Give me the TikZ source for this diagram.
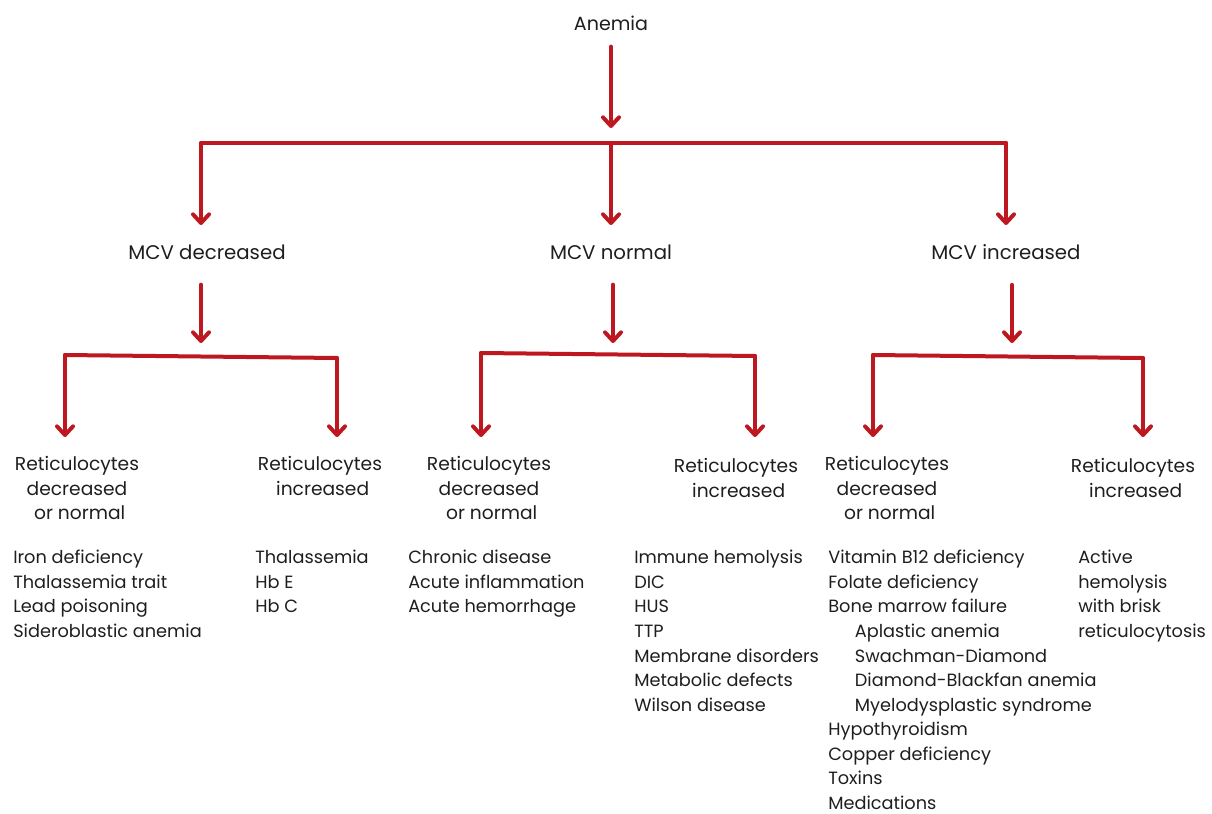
\documentclass[tikz,border=0pt]{standalone}
\usepackage{fontspec}
\setmainfont{Poppins}
\usetikzlibrary{arrows.meta}
\definecolor{barred}{RGB}{189,24,32}
\definecolor{inkgray}{RGB}{30,30,30}
\newcommand{\nudge}{\hspace*{4pt}}
\newcommand{\indentsub}{\hspace*{20pt}}
\tikzset{
  txt/.style={align=center, inner sep=0pt, text=inkgray,
    font=\fontsize{14}{18.5}\selectfont},
  head/.style={txt, font=\fontsize{14.8}{18.5}\selectfont},
  items/.style={txt, align=left, anchor=north west,
    font=\fontsize{13.3}{18.42}\selectfont},
  link/.style={draw=barred, line width=3pt, line cap=round},
  arr/.style={link, -{Straight Barb[length=6.5pt,width=12pt,round]}},
}
\begin{document}
\begin{tikzpicture}[x=0.75pt,y=-0.75pt]
  \useasboundingbox (0,0) rectangle (1212,813);

  \node[head, font=\fontsize{14.3}{18.5}\selectfont] (anemia) at (611,23) {Anemia};
  \node[head] (dec) at (207,252) {MCV decreased};
  \node[head] (nor) at (611,252) {MCV normal};
  \node[head] (inc) at (1006,252) {MCV increased};

  \node[txt] (declow) at (77,488) {Reticulocytes\\decreased\\\nudge or normal};
  \node[txt] (dechigh) at (320,476) {Reticulocytes\\\nudge increased};
  \node[txt] (norlow) at (489,488) {Reticulocytes\\decreased\\\nudge or normal};
  \node[txt] (norhigh) at (736,478) {Reticulocytes\\\nudge increased};
  \node[txt] (inclow) at (887,488) {Reticulocytes\\decreased\\\nudge or normal};
  \node[txt] (inchigh) at (1133,478) {Reticulocytes\\\nudge increased};

  \node[items] (l1) at (13,550) {Iron deficiency\\Thalassemia trait\\Lead poisoning\\Sideroblastic anemia};
  \node[items] (l2) at (255,550) {Thalassemia\\Hb E\\Hb C};
  \node[items] (l3) at (408,550) {Chronic disease\\Acute inflammation\\Acute hemorrhage};
  \node[items] (l4) at (634,550) {Immune hemolysis\\DIC\\HUS\\TTP\\Membrane disorders\\Metabolic defects\\Wilson disease};
  \node[items] (l5) at (828,550) {Vitamin B12 deficiency\\Folate deficiency\\Bone marrow failure\\
    \indentsub Aplastic anemia\\\indentsub Swachman-Diamond\\\indentsub Diamond-Blackfan anemia\\
    \indentsub Myelodysplastic syndrome\\Hypothyroidism\\Copper deficiency\\Toxins\\Medications};
  \node[items] (l6) at (1078,550) {Active\\hemolysis\\with brisk\\reticulocytosis};

  % top split
  \coordinate (t0) at (611,128);
  \coordinate (tl) at (201,143);
  \coordinate (tm) at (611,143);
  \coordinate (tr) at (1006,143);
  \coordinate (dec0) at (201,225);
  \coordinate (nor0) at (611,225);
  \coordinate (inc0) at (1006,225);
  \draw[arr] (anemia.south) ++(0,16) -- (t0);
  \draw[link] (tl) -- (tr);
  \draw[arr] (tl) -- (dec0);
  \draw[arr] (tm) -- (nor0);
  \draw[arr] (tr) -- (inc0);

  % second level
  \coordinate (dec1) at (201,343);
  \coordinate (nor1) at (613,343);
  \coordinate (inc1) at (1012,343);
  \draw[arr] (dec1 |- dec.south) ++(0,25) -- (dec1);
  \draw[arr] (nor1 |- nor.south) ++(0,25) -- (nor1);
  \draw[arr] (inc1 |- inc.south) ++(0,25) -- (inc1);

  \coordinate (dl) at (65,355);   \coordinate (dr) at (337,358);
  \coordinate (nl) at (481,353);  \coordinate (nr) at (755,356);
  \coordinate (il) at (873,355);  \coordinate (ir) at (1143,358);
  \coordinate (dl0) at (65,437);  \coordinate (dr0) at (337,437);
  \coordinate (nl0) at (481,437); \coordinate (nr0) at (755,437);
  \coordinate (il0) at (873,437); \coordinate (ir0) at (1143,437);
  \draw[link] (dl) -- (dr);
  \draw[link] (nl) -- (nr);
  \draw[link] (il) -- (ir);
  \draw[arr] (dl) -- (dl0);
  \draw[arr] (dr) -- (dr0);
  \draw[arr] (nl) -- (nl0);
  \draw[arr] (nr) -- (nr0);
  \draw[arr] (il) -- (il0);
  \draw[arr] (ir) -- (ir0);
\end{tikzpicture}
\end{document}
